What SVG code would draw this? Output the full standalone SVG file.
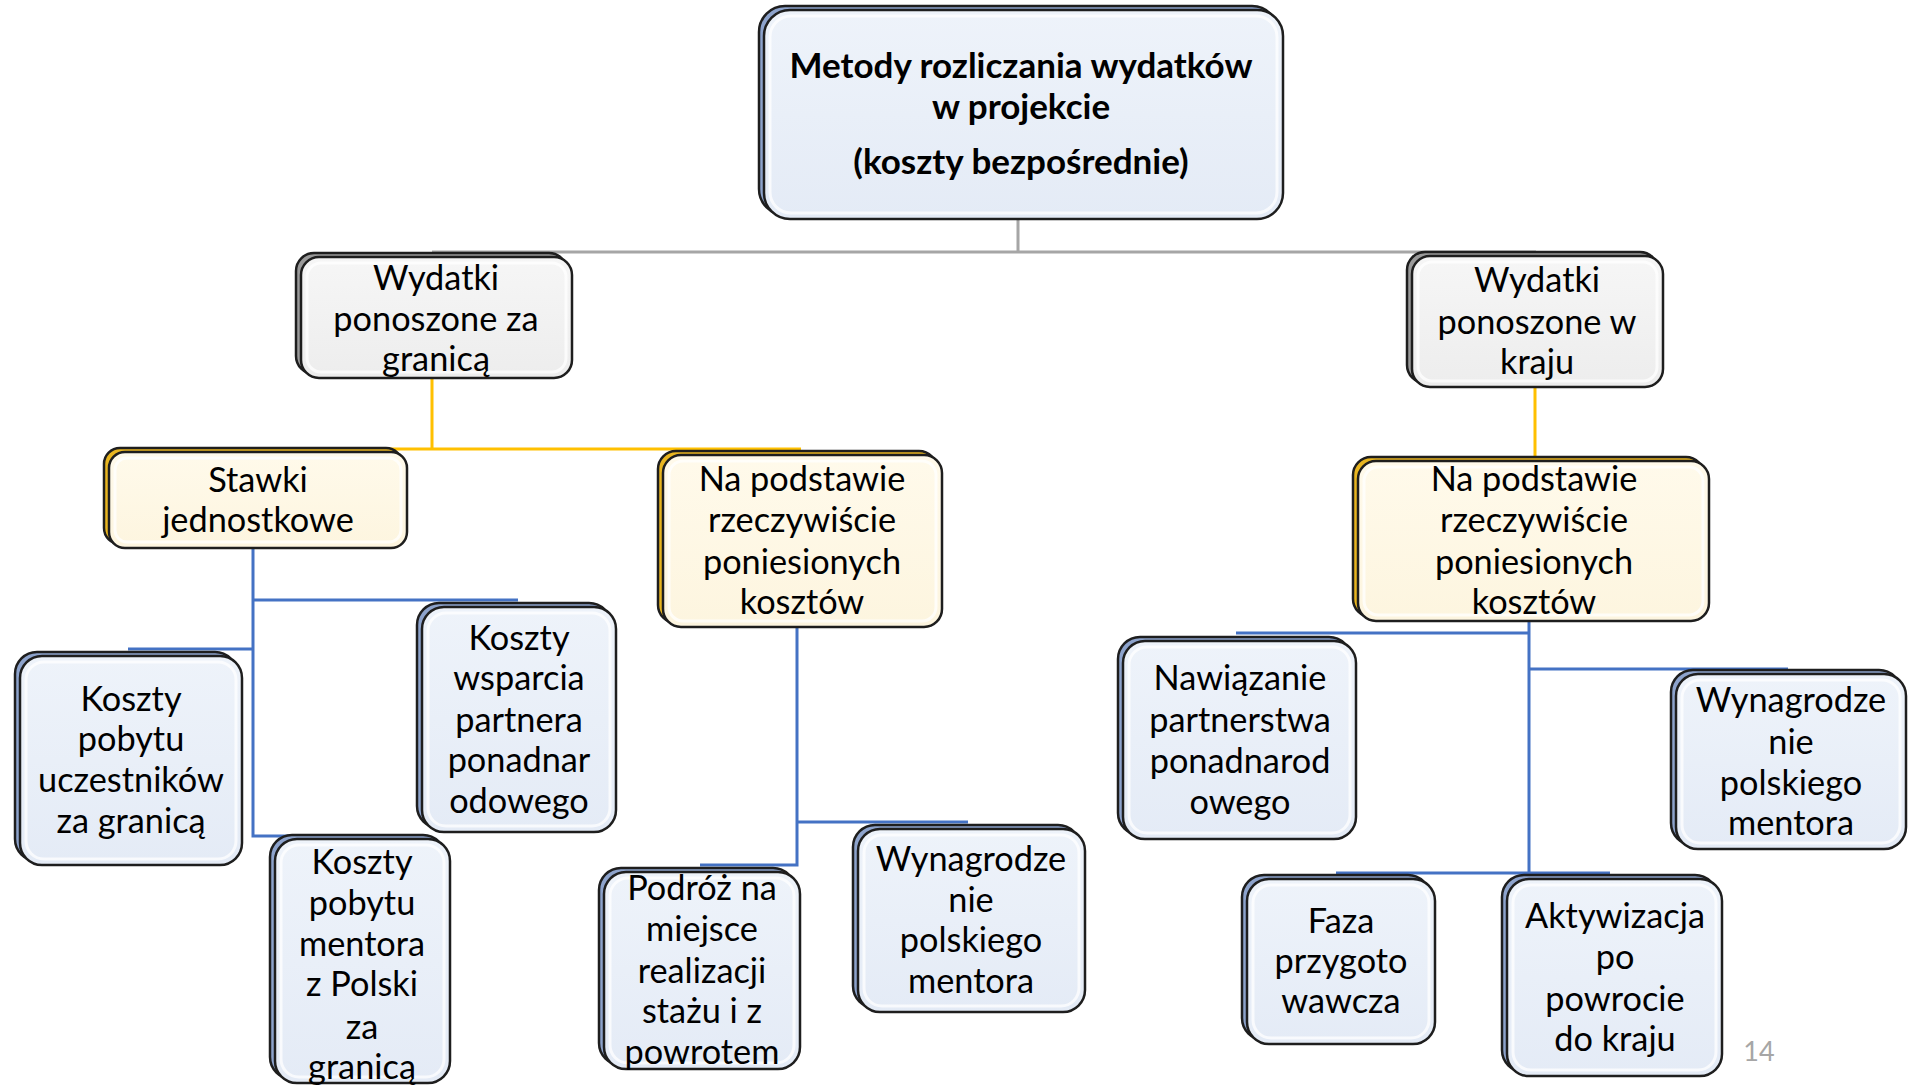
<svg xmlns="http://www.w3.org/2000/svg" width="1910" height="1085" viewBox="0 0 1910 1085">
<style>
.back{stroke:#1e1e1e;stroke-width:2.5}
.face{stroke:#1e1e1e;stroke-width:2.5}
.hl{fill:none;stroke:#ffffff;stroke-opacity:0.75;stroke-width:3}
.blueB{fill:#8DA3CC}
.blueF{fill:url(#gBlue)}
.grayB{fill:#9a9a9a}
.grayF{fill:url(#gGray)}
.yelB{fill:#E8B520}
.yelF{fill:url(#gYel)}
.t{font-family:Lato,"Liberation Sans",sans-serif;font-size:34.3px;fill:#000;text-anchor:middle}
.tb{font-family:Lato,"Liberation Sans",sans-serif;font-size:35px;font-weight:bold;fill:#000;text-anchor:middle}
.conn{fill:none;stroke-width:3}
.gray{stroke:#A6A6A6}
.yel{stroke:#FFC000}
.blue{stroke:#4472C4}
</style>
<defs>
<linearGradient id="gBlue" x1="0" y1="0" x2="0" y2="1"><stop offset="0" stop-color="#EEF3FA"/><stop offset="1" stop-color="#E4EBF6"/></linearGradient>
<linearGradient id="gGray" x1="0" y1="0" x2="0" y2="1"><stop offset="0" stop-color="#F6F6F6"/><stop offset="1" stop-color="#EDEDED"/></linearGradient>
<linearGradient id="gYel" x1="0" y1="0" x2="0" y2="1"><stop offset="0" stop-color="#FFFAEB"/><stop offset="1" stop-color="#FDF5DF"/></linearGradient>
</defs>
<rect width="1910" height="1085" fill="#ffffff"/>

<g id="connectors">
<path class="conn gray" d="M1018,219 V252 M432,252 H1536"/>
<path class="conn yel" d="M432,378 V449 M257,449 H801 M1535,387 V457"/>
<path class="conn blue" d="M253,548 V836 H362 M253,600 H518 M253,649 H128"/>
<path class="conn blue" d="M797,627 V865 H700 M797,822 H968"/>
<path class="conn blue" d="M1529,621 V873 M1529,633 H1236 M1529,669 H1788 M1336,873 H1610"/>
</g>

<g id="root">
<rect class="back blueB" x="759" y="6" width="519" height="209" rx="26"/>
<rect class="face blueF" x="764" y="10" width="519" height="209" rx="26"/>
<rect class="hl" x="770" y="16" width="507" height="197" rx="21"/>
<text class="tb" x="1021" y="78">Metody rozliczania wydatków</text>
<text class="tb" x="1021" y="119">w projekcie</text>
<text class="tb" x="1021" y="174">(koszty bezpośrednie)</text>
</g>

<g id="abroad">
<rect class="back grayB" x="296" y="253" width="271" height="121" rx="18"/>
<rect class="face grayF" x="301" y="257" width="271" height="121" rx="18"/>
<rect class="hl" x="307" y="263" width="259" height="109" rx="14"/>
<text class="t" x="436" y="290">Wydatki</text>
<text class="t" x="436" y="331">ponoszone za</text>
<text class="t" x="436" y="371">granicą</text>
</g>

<g id="home">
<rect class="back grayB" x="1407" y="252" width="251" height="131" rx="18"/>
<rect class="face grayF" x="1412" y="256" width="251" height="131" rx="18"/>
<rect class="hl" x="1418" y="262" width="239" height="119" rx="14"/>
<text class="t" x="1537" y="292">Wydatki</text>
<text class="t" x="1537" y="334">ponoszone w</text>
<text class="t" x="1537" y="374">kraju</text>
</g>

<g id="stawki">
<rect class="back yelB" x="104" y="448" width="298" height="96" rx="16"/>
<rect class="face yelF" x="109" y="452" width="298" height="96" rx="16"/>
<rect class="hl" x="115" y="458" width="286" height="84" rx="12"/>
<text class="t" x="258" y="492">Stawki</text>
<text class="t" x="258" y="532">jednostkowe</text>
</g>

<g id="real-abroad">
<rect class="back yelB" x="658" y="451" width="279" height="172" rx="18"/>
<rect class="face yelF" x="663" y="455" width="279" height="172" rx="18"/>
<rect class="hl" x="669" y="461" width="267" height="160" rx="14"/>
<text class="t" x="802" y="491">Na podstawie</text>
<text class="t" x="802" y="532">rzeczywiście</text>
<text class="t" x="802" y="574">poniesionych</text>
<text class="t" x="802" y="614">kosztów</text>
</g>

<g id="real-home">
<rect class="back yelB" x="1353" y="457" width="351" height="160" rx="18"/>
<rect class="face yelF" x="1358" y="461" width="351" height="160" rx="18"/>
<rect class="hl" x="1364" y="467" width="339" height="148" rx="14"/>
<text class="t" x="1534" y="491">Na podstawie</text>
<text class="t" x="1534" y="532">rzeczywiście</text>
<text class="t" x="1534" y="574">poniesionych</text>
<text class="t" x="1534" y="614">kosztów</text>
</g>

<g id="k-uczestnicy">
<rect class="back blueB" x="15" y="652" width="222" height="209" rx="22"/>
<rect class="face blueF" x="20" y="656" width="222" height="209" rx="22"/>
<rect class="hl" x="26" y="662" width="210" height="197" rx="18"/>
<text class="t" x="131" y="711">Koszty</text>
<text class="t" x="131" y="751">pobytu</text>
<text class="t" x="131" y="792">uczestników</text>
<text class="t" x="131" y="833">za granicą</text>
</g>

<g id="k-wsparcie">
<rect class="back blueB" x="417" y="603" width="194" height="225" rx="22"/>
<rect class="face blueF" x="422" y="607" width="194" height="225" rx="22"/>
<rect class="hl" x="428" y="613" width="182" height="213" rx="18"/>
<text class="t" x="519" y="650">Koszty</text>
<text class="t" x="519" y="690">wsparcia</text>
<text class="t" x="519" y="732">partnera</text>
<text class="t" x="519" y="772">ponadnar</text>
<text class="t" x="519" y="813">odowego</text>
</g>

<g id="k-mentor">
<rect class="back blueB" x="270" y="835" width="175" height="244" rx="22"/>
<rect class="face blueF" x="275" y="839" width="175" height="244" rx="22"/>
<rect class="hl" x="281" y="845" width="163" height="232" rx="18"/>
<text class="t" x="362" y="874">Koszty</text>
<text class="t" x="362" y="915">pobytu</text>
<text class="t" x="362" y="956">mentora</text>
<text class="t" x="362" y="996">z Polski</text>
<text class="t" x="362" y="1039">za</text>
<text class="t" x="362" y="1079">granicą</text>
</g>

<g id="podroz">
<rect class="back blueB" x="599" y="868" width="196" height="197" rx="22"/>
<rect class="face blueF" x="604" y="872" width="196" height="197" rx="22"/>
<rect class="hl" x="610" y="878" width="184" height="185" rx="18"/>
<text class="t" x="702" y="900">Podróż na</text>
<text class="t" x="702" y="941">miejsce</text>
<text class="t" x="702" y="983">realizacji</text>
<text class="t" x="702" y="1023">stażu i z</text>
<text class="t" x="702" y="1064">powrotem</text>
</g>

<g id="wyn-abroad">
<rect class="back blueB" x="853" y="825" width="227" height="183" rx="22"/>
<rect class="face blueF" x="858" y="829" width="227" height="183" rx="22"/>
<rect class="hl" x="864" y="835" width="215" height="171" rx="18"/>
<text class="t" x="971" y="871">Wynagrodze</text>
<text class="t" x="971" y="912">nie</text>
<text class="t" x="971" y="952">polskiego</text>
<text class="t" x="971" y="993">mentora</text>
</g>

<g id="nawiazanie">
<rect class="back blueB" x="1118" y="637" width="233" height="198" rx="22"/>
<rect class="face blueF" x="1123" y="641" width="233" height="198" rx="22"/>
<rect class="hl" x="1129" y="647" width="221" height="186" rx="18"/>
<text class="t" x="1240" y="690">Nawiązanie</text>
<text class="t" x="1240" y="732">partnerstwa</text>
<text class="t" x="1240" y="773">ponadnarod</text>
<text class="t" x="1240" y="814">owego</text>
</g>

<g id="wyn-home">
<rect class="back blueB" x="1671" y="670" width="230" height="175" rx="22"/>
<rect class="face blueF" x="1676" y="674" width="230" height="175" rx="22"/>
<rect class="hl" x="1682" y="680" width="218" height="163" rx="18"/>
<text class="t" x="1791" y="712">Wynagrodze</text>
<text class="t" x="1791" y="754">nie</text>
<text class="t" x="1791" y="795">polskiego</text>
<text class="t" x="1791" y="835">mentora</text>
</g>

<g id="faza">
<rect class="back blueB" x="1242" y="875" width="188" height="165" rx="22"/>
<rect class="face blueF" x="1247" y="879" width="188" height="165" rx="22"/>
<rect class="hl" x="1253" y="885" width="176" height="153" rx="18"/>
<text class="t" x="1341" y="933">Faza</text>
<text class="t" x="1341" y="973">przygoto</text>
<text class="t" x="1341" y="1013">wawcza</text>
</g>

<g id="aktywizacja">
<rect class="back blueB" x="1502" y="875" width="215" height="197" rx="22"/>
<rect class="face blueF" x="1507" y="879" width="215" height="197" rx="22"/>
<rect class="hl" x="1513" y="885" width="203" height="185" rx="18"/>
<text class="t" x="1615" y="928">Aktywizacja</text>
<text class="t" x="1615" y="969">po</text>
<text class="t" x="1615" y="1011">powrocie</text>
<text class="t" x="1615" y="1051">do kraju</text>
</g>

<text x="1759" y="1061" font-family="Lato,'Liberation Sans',sans-serif" font-size="27" fill="#A6A6A6" text-anchor="middle">14</text>
</svg>
